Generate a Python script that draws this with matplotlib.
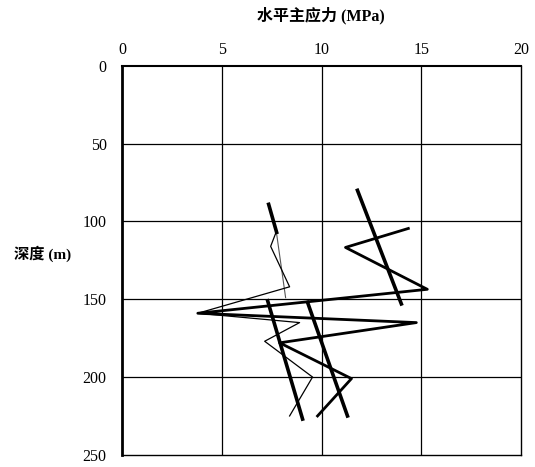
import matplotlib
matplotlib.use("Agg")
import matplotlib.pyplot as plt

plt.rcParams['font.family'] = ['Liberation Serif', 'Noto Sans CJK SC']

# serie mesuree 1 (trait epais)
stress_a = [14.35, 11.2, 15.3, 3.8, 14.75, 7.9, 11.5, 9.8]
depth_a = [104.5, 116.7, 143.6, 159, 165, 178, 201, 225]

# serie mesuree 2 (trait fin)
stress_b = [7.75, 7.45, 8.4, 3.8, 8.9, 7.15, 9.55, 8.4]
depth_b = [106, 116, 142, 159, 165, 177, 200, 225]

# droites de tendance
trend_x = [[11.8, 14.0], [7.35, 7.75], [7.3, 9.05], [9.3, 11.3]]
trend_y = [[80, 153], [89, 107], [151, 227], [152, 225]]
thin_trend_x = [7.75, 8.2]
thin_trend_y = [108, 149]

fig = plt.figure(figsize=(5.35, 4.67), dpi=100)
ax = fig.add_axes([0.228, 0.026, 0.746, 0.833])

for gx in [5, 10, 15]:
    ax.axvline(gx, color='black', lw=0.9, zorder=1)
for gy in [50, 100, 150, 200]:
    ax.axhline(gy, color='black', lw=0.9, zorder=1)

ax.plot(stress_a, depth_a, color='black', lw=2.0, zorder=3)
ax.plot(stress_b, depth_b, color='black', lw=0.9, zorder=3)
for tx, ty in zip(trend_x, trend_y):
    ax.plot(tx, ty, color='black', lw=2.6, zorder=4)
ax.plot(thin_trend_x, thin_trend_y, color='#555555', lw=0.8, zorder=2)

ax.set_xlim(0, 20)
ax.set_ylim(250, 0)
ax.set_xticks([0, 5, 10, 15, 20])
ax.set_yticks([0, 50, 100, 150, 200, 250])
ax.xaxis.tick_top()
ax.tick_params(axis='both', length=0, labelsize=11.5)
ax.tick_params(axis='x', pad=6)
ax.tick_params(axis='y', pad=11)

for s in ax.spines.values():
    s.set_color('black')
    s.set_linewidth(1.0)
ax.spines['left'].set_linewidth(2.0)
ax.spines['top'].set_linewidth(1.5)

fig.text(0.6, 0.967, "水平主应力 (MPa)", ha='center', va='center',
         fontsize=11.5, fontweight='bold')
fig.text(0.08, 0.457, "深度 (m)", ha='center', va='center',
         fontsize=11, fontweight='bold')

plt.savefig("out.png", dpi=100)
